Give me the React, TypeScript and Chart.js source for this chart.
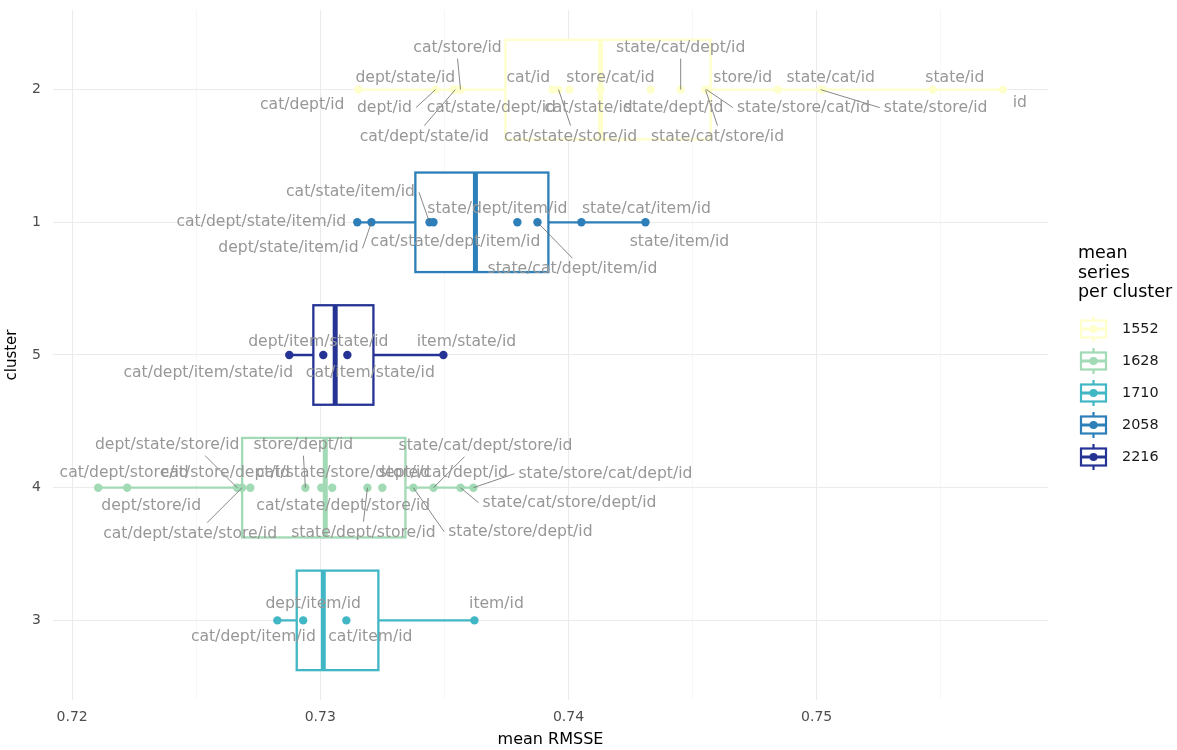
import React, { useEffect, useRef } from "react";
import { Chart, registerables } from "chart.js";

Chart.register(...registerables);

// ---------------- data ----------------
const clusterOrder = ["3", "4", "5", "1", "2"]; // bottom -> top
const xMajorTicks = [0.72, 0.73, 0.74, 0.75];
const xMinorTicks = [0.725, 0.735, 0.745, 0.755];
const xLimits = [0.71923, 0.75932];
const yLimits = [0.4, 5.6];

const legendTitle = ["mean", "series", "per cluster"];
const legendValues = ["1552", "1628", "1710", "2058", "2216"];
const legendClusters = ["2", "4", "3", "1", "5"];
const legendColors = ["#ffffcc", "#a1dab4", "#41b6c4", "#2c7fb8", "#253494"];

const cluster2Names = [
  "cat/dept/id", "dept/id", "dept/state/id", "cat/dept/state/id", "cat/state/dept/id",
  "cat/store/id", "cat/id", "cat/state/store/id", "cat/state/id", "store/cat/id",
  "state/dept/id", "state/cat/dept/id", "state/cat/store/id", "state/store/cat/id", "store/id",
  "state/store/id", "state/cat/id", "state/id", "id",
];
const cluster2Values = [
  0.73153, 0.73464, 0.73536, 0.73544, 0.73552,
  0.73565, 0.73935, 0.7396, 0.74004, 0.74129,
  0.74331, 0.74452, 0.74552, 0.74556, 0.74843,
  0.75016, 0.75024, 0.75468, 0.7575,
];

const cluster1Names = [
  "cat/dept/state/item/id", "dept/state/item/id", "cat/state/item/id", "cat/state/dept/item/id",
  "state/dept/item/id", "state/cat/dept/item/id", "state/cat/item/id", "state/item/id",
];
const cluster1Values = [0.73149, 0.73206, 0.7344, 0.73456, 0.73794, 0.73875, 0.74052, 0.7431];

const cluster5Names = ["cat/dept/item/state/id", "dept/item/state/id", "cat/item/state/id", "item/state/id"];
const cluster5Values = [0.72875, 0.73012, 0.73109, 0.73496];

const cluster4Names = [
  "cat/dept/store/id", "dept/store/id", "dept/state/store/id", "cat/dept/state/store/id",
  "cat/store/dept/id", "store/dept/id", "cat/state/dept/store/id", "cat/state/store/dept/id",
  "state/dept/store/id", "store/cat/dept/id", "state/store/dept/id", "state/cat/dept/store/id",
  "state/cat/store/dept/id", "state/store/cat/dept/id",
];
const cluster4Values = [
  0.72105, 0.72222, 0.72665, 0.72685,
  0.72718, 0.7294, 0.73004, 0.73048,
  0.7319, 0.7325, 0.73375, 0.73456,
  0.73565, 0.73617,
];

const cluster3Names = ["cat/dept/item/id", "dept/item/id", "cat/item/id", "item/id"];
const cluster3Values = [0.72827, 0.72931, 0.73105, 0.73621];

// box statistics
const boxClusters = ["2", "1", "5", "4", "3"];
const boxLow = [0.73153, 0.73149, 0.72875, 0.72105, 0.72827];
const boxQ1 = [0.73746, 0.73383, 0.72972, 0.72685, 0.72905];
const boxMedian = [0.74129, 0.73625, 0.7306, 0.7302, 0.73012];
const boxQ3 = [0.74573, 0.73919, 0.73214, 0.73343, 0.73234];
const boxHigh = [0.7575, 0.7431, 0.73496, 0.73617, 0.73621];

// ---------------- layout / style ----------------
const FONT = "'DejaVu Sans', sans-serif";
const BOX_HALF = 0.375;
const LABEL_SIZE = 15.6;
const LABEL_COLOR = "#979797";
const SEGMENT_COLOR = "#6a6a6a";

// label centre offsets (px) from the point, as placed by the repel layout
const cluster2Offsets = [
  [-56, 15], [-51, 18], [-48, -12], [-31, 47], [34, 18],
  [-3, -42], [-24, -12], [12, 47], [19, 18], [10, -12],
  [23, 18], [0, -42], [12, 47], [97, 18], [-35, -12],
  [115, 18], [8, -12], [22, -12], [17, 13],
];
const cluster1Offsets = [[-96, 0], [-83, 26], [-79, -30], [22, 20], [-20, -13], [35, 47], [65, -13], [34, 20]];
const cluster5Offsets = [[-81, 18], [-5, -13], [23, 18], [23, -13]];
const cluster4Offsets = [
  [26, -15], [24, 18], [-70, -43], [-52, 46],
  [-25, -15], [-2, -43], [22, 18], [11, -15],
  [-4, 45], [61, -15], [107, 44], [52, -42],
  [109, 15], [132, -14],
];
const cluster3Offsets = [[-24, 17], [10, -16], [24, 17], [22, -16]];

const groups = [
  { cluster: "2", names: cluster2Names, values: cluster2Values, offsets: cluster2Offsets },
  { cluster: "1", names: cluster1Names, values: cluster1Values, offsets: cluster1Offsets },
  { cluster: "5", names: cluster5Names, values: cluster5Values, offsets: cluster5Offsets },
  { cluster: "4", names: cluster4Names, values: cluster4Values, offsets: cluster4Offsets },
  { cluster: "3", names: cluster3Names, values: cluster3Values, offsets: cluster3Offsets },
];

const posOf = (c: string) => clusterOrder.indexOf(c) + 1;
const colorOf = (c: string) => legendColors[legendClusters.indexOf(c)];
const isMajor = (v: number) => Math.abs(v * 100 - Math.round(v * 100)) < 1e-6;

const boxPlugin = {
  id: "boxes",
  beforeDatasetsDraw(chart: any) {
    const { ctx, scales } = chart;
    const x = scales.x;
    const y = scales.y;
    ctx.save();
    boxClusters.forEach((c, i) => {
      const col = colorOf(c);
      const yc = y.getPixelForValue(posOf(c));
      const h = Math.abs(y.getPixelForValue(posOf(c) + BOX_HALF) - yc);
      const xl = x.getPixelForValue(boxLow[i]);
      const x1 = x.getPixelForValue(boxQ1[i]);
      const xm = x.getPixelForValue(boxMedian[i]);
      const x3 = x.getPixelForValue(boxQ3[i]);
      const xh = x.getPixelForValue(boxHigh[i]);
      ctx.strokeStyle = col;
      ctx.lineWidth = 2.3;
      ctx.beginPath();
      ctx.moveTo(xl, yc);
      ctx.lineTo(x1, yc);
      ctx.moveTo(x3, yc);
      ctx.lineTo(xh, yc);
      ctx.stroke();
      ctx.fillStyle = "#ffffff";
      ctx.fillRect(x1, yc - h, x3 - x1, 2 * h);
      ctx.strokeRect(x1, yc - h, x3 - x1, 2 * h);
      ctx.lineWidth = 5;
      ctx.beginPath();
      ctx.moveTo(xm, yc - h);
      ctx.lineTo(xm, yc + h);
      ctx.stroke();
    });
    ctx.restore();
  },
};

const labelPlugin = {
  id: "repelLabels",
  afterDatasetsDraw(chart: any) {
    const { ctx, scales } = chart;
    const x = scales.x;
    const y = scales.y;
    ctx.save();
    ctx.font = `${LABEL_SIZE}px ${FONT}`;
    const items: any[] = [];
    groups.forEach((g) => {
      g.values.forEach((v, i) => {
        const px = x.getPixelForValue(v);
        const py = y.getPixelForValue(posOf(g.cluster));
        const [dx, dy] = g.offsets[i];
        const w = ctx.measureText(g.names[i]).width;
        items.push({ px, py, cx: px + dx, cy: py + dy, w, text: g.names[i] });
      });
    });
    ctx.strokeStyle = SEGMENT_COLOR;
    ctx.lineWidth = 0.8;
    items.forEach((it) => {
      const pad = 4;
      const halfH = 7;
      const b0 = it.cx - it.w / 2 - pad;
      const b2 = it.cx + it.w / 2 + pad;
      const b1 = it.cy - halfH - pad;
      const b3 = it.cy + halfH + pad;
      let ox = it.px;
      let oy = it.py;
      let outX = false;
      let outY = false;
      if (it.px < b0) { ox = b0; outX = true; } else if (it.px > b2) { ox = b2; outX = true; }
      if (it.py < b1) { oy = b1; outY = true; } else if (it.py > b3) { oy = b3; outY = true; }
      const d = Math.hypot(it.px - ox, it.py - oy);
      if (d <= 12) return;
      if (outY && !outX) {
        const shift = Math.min(Math.abs(it.px - it.cx), d);
        ox = it.px + Math.sign(it.cx - it.px) * shift;
      } else if (outX && !outY) {
        const shift = Math.min(Math.abs(it.py - it.cy), d);
        oy = it.py + Math.sign(it.cy - it.py) * shift;
      } else {
        const dxm = Math.abs(it.cx - ox);
        const dym = Math.abs(it.cy - oy);
        if (dxm < dym) ox = it.cx; else oy = it.cy;
      }
      ctx.beginPath();
      ctx.moveTo(it.px, it.py);
      ctx.lineTo(ox, oy);
      ctx.stroke();
    });
    ctx.fillStyle = LABEL_COLOR;
    ctx.textAlign = "center";
    ctx.textBaseline = "middle";
    items.forEach((it) => ctx.fillText(it.text, it.cx, it.cy));
    ctx.restore();
  },
};

const legendPlugin = {
  id: "customLegend",
  afterDraw(chart: any) {
    const { ctx } = chart;
    ctx.save();
    ctx.fillStyle = "#000000";
    ctx.textAlign = "left";
    ctx.textBaseline = "alphabetic";
    ctx.font = `17.5px ${FONT}`;
    legendTitle.forEach((l, i) => ctx.fillText(l, 1078, 258 + i * 19.5));
    ctx.font = `14.4px ${FONT}`;
    legendValues.forEach((val, i) => {
      const cy = 329 + i * 32;
      const cx = 1093.5;
      const col = legendColors[i];
      ctx.strokeStyle = col;
      ctx.lineWidth = 2.2;
      ctx.beginPath();
      ctx.moveTo(cx, cy - 13);
      ctx.lineTo(cx, cy - 8.5);
      ctx.moveTo(cx, cy + 8.5);
      ctx.lineTo(cx, cy + 13);
      ctx.stroke();
      ctx.fillStyle = "#ffffff";
      ctx.fillRect(cx - 12.5, cy - 8.5, 25, 17);
      ctx.strokeRect(cx - 12.5, cy - 8.5, 25, 17);
      ctx.lineWidth = 3;
      ctx.beginPath();
      ctx.moveTo(cx - 12.5, cy);
      ctx.lineTo(cx + 12.5, cy);
      ctx.stroke();
      ctx.fillStyle = col;
      ctx.beginPath();
      ctx.arc(cx, cy, 4, 0, Math.PI * 2);
      ctx.fill();
      ctx.fillStyle = "#1a1a1a";
      ctx.textBaseline = "middle";
      ctx.fillText(val, 1122, cy);
    });
    ctx.restore();
  },
};

const zeroPadding = (s: any) => {
  s.paddingTop = 0;
  s.paddingBottom = 0;
  s.paddingLeft = 0;
  s.paddingRight = 0;
};

export default function App() {
  const ref = useRef<HTMLCanvasElement>(null);
  useEffect(() => {
    const datasets = groups.map((g) => ({
      label: g.cluster,
      data: g.values.map((v) => ({ x: v, y: posOf(g.cluster) })),
      backgroundColor: colorOf(g.cluster),
      borderColor: colorOf(g.cluster),
      pointRadius: 4.2,
      pointHoverRadius: 4.2,
      pointBorderWidth: 0,
      showLine: false,
    }));
    const chart = new Chart(ref.current as HTMLCanvasElement, {
      type: "scatter",
      data: { datasets },
      plugins: [boxPlugin, labelPlugin, legendPlugin],
      options: {
        responsive: false,
        animation: false,
        events: [],
        layout: { padding: { left: 0, right: 129, top: 10, bottom: 0 } },
        plugins: { legend: { display: false }, tooltip: { enabled: false } },
        scales: {
          x: {
            type: "linear",
            min: xLimits[0],
            max: xLimits[1],
            afterBuildTicks: (s: any) => {
              s.ticks = [...xMajorTicks, ...xMinorTicks].sort((a, b) => a - b).map((v) => ({ value: v }));
            },
            afterFit: (s: any) => { s.height = 50; zeroPadding(s); },
            grid: {
              drawTicks: false,
              color: (c: any) => (c.tick && isMajor(c.tick.value) ? "#ebebeb" : "#f3f3f3"),
              lineWidth: (c: any) => (c.tick && isMajor(c.tick.value) ? 1.1 : 0.7),
            },
            border: { display: false },
            ticks: {
              autoSkip: false,
              maxRotation: 0,
              padding: 9,
              color: "#4d4d4d",
              font: { family: FONT, size: 14 },
              callback: (v: any) => (isMajor(Number(v)) ? Number(v).toFixed(2) : ""),
            },
            title: {
              display: true,
              text: "mean RMSSE",
              color: "#000000",
              font: { family: FONT, size: 16 },
              padding: { top: 2, bottom: 1 },
            },
          },
          y: {
            type: "linear",
            min: yLimits[0],
            max: yLimits[1],
            afterBuildTicks: (s: any) => {
              s.ticks = clusterOrder.map((_, i) => ({ value: i + 1 }));
            },
            afterFit: (s: any) => { s.width = 53; zeroPadding(s); },
            grid: { drawTicks: false, color: "#ebebeb", lineWidth: 1.1 },
            border: { display: false },
            ticks: {
              autoSkip: false,
              padding: 12,
              color: "#4d4d4d",
              font: { family: FONT, size: 14 },
              callback: (v: any) => clusterOrder[Math.round(Number(v)) - 1] ?? "",
            },
            title: {
              display: true,
              text: "cluster",
              color: "#000000",
              font: { family: FONT, size: 15 },
              padding: { top: 3, bottom: 0 },
            },
          },
        },
      } as any,
    });
    return () => chart.destroy();
  }, []);
  return (
    <div style={{ position: "absolute", left: 0, top: 0, width: 1177, height: 750, background: "#ffffff" }}>
      <canvas ref={ref} width={1177} height={750} style={{ display: "block", width: 1177, height: 750 }} />
    </div>
  );
}
